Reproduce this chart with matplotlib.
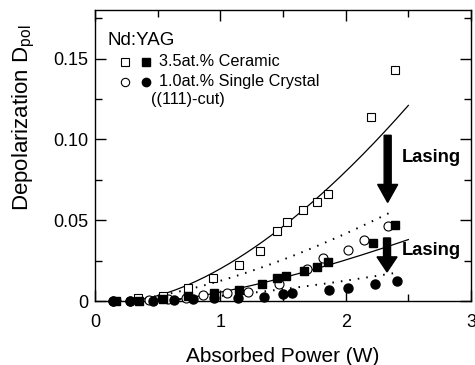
import matplotlib
matplotlib.use('Agg')
import matplotlib.pyplot as plt
from matplotlib.patches import FancyArrow
from matplotlib.ticker import MultipleLocator
import numpy as np

plt.rcParams['font.family'] = ['Liberation Sans', 'DejaVu Sans']

# 3.5at.% ceramic, open = unlasing, filled = lasing
cer_open_x = [0.34, 0.54, 0.74, 0.94, 1.15, 1.32, 1.45, 1.53, 1.66, 1.77, 1.86, 2.20, 2.39]
cer_open_y = [0.002, 0.003, 0.008, 0.014, 0.022, 0.031, 0.043, 0.049, 0.056, 0.061, 0.066, 0.114, 0.1426]
cer_fill_x = [0.17, 0.35, 0.54, 0.74, 0.95, 1.15, 1.33, 1.45, 1.52, 1.67, 1.77, 1.86, 2.22, 2.39]
cer_fill_y = [0.0, 0.0, 0.001, 0.003, 0.005, 0.0068, 0.0105, 0.014, 0.0155, 0.0186, 0.021, 0.024, 0.036, 0.047]

# 1.0at.% single crystal (111)-cut
sc_open_x = [0.14, 0.28, 0.43, 0.58, 0.73, 0.86, 1.05, 1.22, 1.47, 1.69, 1.82, 2.02, 2.15, 2.34]
sc_open_y = [0.0, 0.0, 0.0005, 0.001, 0.002, 0.0037, 0.005, 0.0056, 0.0105, 0.0197, 0.0265, 0.0315, 0.0377, 0.0463]
sc_fill_x = [0.14, 0.28, 0.46, 0.63, 0.78, 0.95, 1.14, 1.35, 1.50, 1.57, 1.87, 2.02, 2.23, 2.41]
sc_fill_y = [0.0, 0.0, 0.0, 0.0005, 0.001, 0.002, 0.002, 0.0027, 0.0043, 0.005, 0.0068, 0.008, 0.0105, 0.0123]

# fit curves y = a*(x-x0)**n : a, x0, n, x start, x end
fit_cer_open = [0.0320, 0.25, 1.64, 0.30, 2.50]
fit_cer_fill = [0.0144, 0.50, 1.40, 0.50, 2.50]
fit_sc_open = [0.01607, 0.15, 1.55, 0.20, 2.38]
fit_sc_fill = [0.00594, 0.35, 1.50, 0.40, 2.38]


def fit_curve(p):
    a, x0, n, xs, xe = p
    x = np.linspace(xs, xe, 200)
    return x, a * np.clip(x - x0, 0, None) ** n


fig = plt.figure(figsize=(4.75, 3.65), dpi=100)
ax = fig.add_axes([0.200, 0.1753, 0.7916, 0.7973])

x, y = fit_curve(fit_cer_open)
ax.plot(x, y, '-', color='black', lw=0.9)
x, y = fit_curve(fit_cer_fill)
ax.plot(x, y, '-', color='black', lw=0.9)
x, y = fit_curve(fit_sc_open)
ax.plot(x, y, color='black', lw=1.4, ls=(0, (0.8, 3.6)))
x, y = fit_curve(fit_sc_fill)
ax.plot(x, y, color='black', lw=1.4, ls=(0, (0.8, 3.6)))

ax.plot(sc_open_x, sc_open_y, 'o', ms=6.5, mfc='white', mec='black', mew=0.8, clip_on=False, zorder=3)
ax.plot(sc_fill_x, sc_fill_y, 'o', ms=6.5, mfc='black', mec='black', clip_on=False, zorder=3)
ax.plot(cer_open_x, cer_open_y, 's', ms=6, mfc='white', mec='black', mew=0.8, clip_on=False, zorder=3)
ax.plot(cer_fill_x, cer_fill_y, 's', ms=6, mfc='black', mec='black', clip_on=False, zorder=4)

# lasing arrows
ax.add_patch(FancyArrow(2.335, 0.1025, 0, -0.0415, width=0.056, head_width=0.16,
                        head_length=0.0111, length_includes_head=True, color='black', zorder=5))
ax.add_patch(FancyArrow(2.33, 0.039, 0, -0.021, width=0.056, head_width=0.16,
                        head_length=0.0093, length_includes_head=True, color='black', zorder=5))
ax.text(2.45, 0.0885, 'Lasing', fontsize=13.2, fontweight='bold', va='center')
ax.text(2.45, 0.0315, 'Lasing', fontsize=13.2, fontweight='bold', va='center')

# legend block
ax.text(0.10, 0.161, 'Nd:YAG', fontsize=13.5, va='center')
ax.plot([0.24], [0.148], 's', ms=6, mfc='white', mec='black', mew=0.8)
ax.plot([0.41], [0.148], 's', ms=6, mfc='black', mec='black')
ax.text(0.51, 0.148, '3.5at.% Ceramic', fontsize=11.7, va='center')
ax.plot([0.24], [0.1355], 'o', ms=6, mfc='white', mec='black', mew=0.8)
ax.plot([0.41], [0.1355], 'o', ms=6, mfc='black', mec='black')
ax.text(0.51, 0.1355, '1.0at.% Single Crystal', fontsize=11.7, va='center')
ax.text(0.45, 0.1245, '((111)-cut)', fontsize=11.7, va='center')

ax.set_xlim(0, 3)
ax.set_ylim(0, 0.18)
ax.xaxis.set_major_locator(MultipleLocator(1))
ax.xaxis.set_minor_locator(MultipleLocator(0.5))
ax.yaxis.set_major_locator(MultipleLocator(0.05))
ax.yaxis.set_minor_locator(MultipleLocator(0.025))
ax.set_xticks([0, 1, 2, 3])
ax.set_xticklabels(['0', '1', '2', '3'])
ax.set_yticks([0, 0.05, 0.10, 0.15])
ax.set_yticklabels(['0', '0.05', '0.10', '0.15'])
ax.tick_params(which='both', direction='in', top=True, right=True, labelsize=13, width=1)
ax.tick_params(which='major', length=8)
ax.tick_params(which='minor', length=5)
ax.tick_params(axis='x', which='major', pad=9)
ax.tick_params(axis='y', which='major', pad=5)
for s in ax.spines.values():
    s.set_linewidth(1)

ax.set_xlabel('Absorbed Power (W)', fontsize=15, labelpad=12)
fig.text(24 / 475, 1 - 118 / 365, 'Depolarization D$_{\\mathregular{pol}}$', fontsize=16,
         rotation=90, ha='center', va='center')

plt.savefig('out.png', dpi=100)
